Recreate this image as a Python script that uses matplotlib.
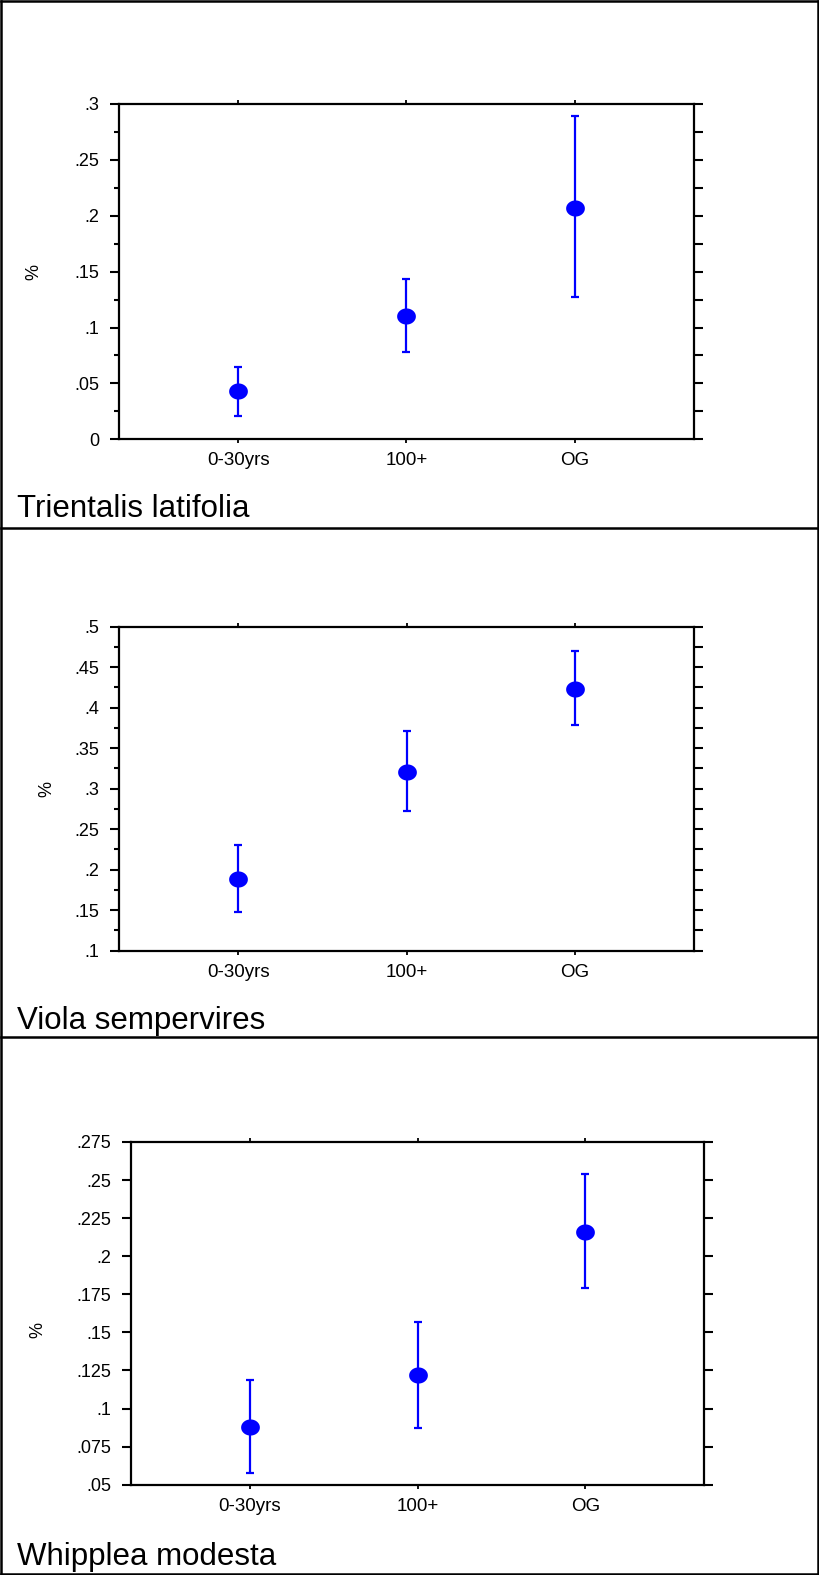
import numpy as np
import matplotlib
matplotlib.use("Agg")
import matplotlib.pyplot as plt
from matplotlib.path import Path
from matplotlib.lines import Line2D

plt.rcParams['font.family'] = ['Liberation Sans', 'DejaVu Sans']

# ---------------------------------------------------------------
# data (mean and error bar ends)
# ---------------------------------------------------------------
categories = ['0-30yrs', '100+', 'OG']

trientalis_mean = [0.043, 0.110, 0.207]
trientalis_low = [0.021, 0.078, 0.127]
trientalis_high = [0.065, 0.143, 0.289]

viola_mean = [0.188, 0.321, 0.423]
viola_low = [0.148, 0.273, 0.379]
viola_high = [0.230, 0.371, 0.470]

whipplea_mean = [0.088, 0.122, 0.216]
whipplea_low = [0.058, 0.087, 0.179]
whipplea_high = [0.119, 0.157, 0.254]

trientalis_ticks = [0, 0.05, 0.1, 0.15, 0.2, 0.25, 0.3]
trientalis_ticklabels = ['0', '.05', '.1', '.15', '.2', '.25', '.3']
viola_ticks = [0.1, 0.15, 0.2, 0.25, 0.3, 0.35, 0.4, 0.45, 0.5]
viola_ticklabels = ['.1', '.15', '.2', '.25', '.3', '.35', '.4', '.45', '.5']
whipplea_ticks = [0.05, 0.075, 0.1, 0.125, 0.15, 0.175, 0.2, 0.225, 0.25, 0.275]
whipplea_ticklabels = ['.05', '.075', '.1', '.125', '.15', '.175', '.2', '.225', '.25', '.275']

titles = ['Trientalis latifolia', 'Viola sempervires', 'Whipplea modesta']

# ---------------------------------------------------------------
# figure
# ---------------------------------------------------------------
W, H = 820, 1575
fig = plt.figure(figsize=(W / 100, H / 100), dpi=100)


def fx(px):
    return px / W


def fy(py):
    return 1 - py / H


# slightly flattened dot like the original
t = np.linspace(0, 2 * np.pi, 64)
ellipse = Path(np.column_stack([np.cos(t), 0.86 * np.sin(t)]), closed=True)

blue = '#0000ff'


def panel(rect, mean, low, high, ticks, ticklabels, minor, label_x, label_y, pad):
    ax = fig.add_axes(rect)
    x = np.arange(1, len(categories) + 1)
    mean = np.array(mean)
    yerr = [mean - np.array(low), np.array(high) - mean]
    ax.errorbar(x, mean, yerr=yerr, fmt='none', ecolor=blue, elinewidth=1.6,
                capsize=3.2, capthick=1.6, zorder=2)
    ax.plot(x, mean, linestyle='none', marker=ellipse, markersize=13.5,
            color=blue, markeredgewidth=0, zorder=3)

    ax.set_xlim(0.29, 3.71)
    ax.set_ylim(ticks[0], ticks[-1])
    ax.set_xticks(x)
    ax.set_xticklabels(categories, fontsize=13.5)
    ax.set_yticks(ticks)
    ax.set_yticklabels(ticklabels, fontsize=13)
    step = ticks[1] - ticks[0]
    if minor:
        ax.set_yticks(np.arange(ticks[0] + step / 2, ticks[-1], step), minor=True)

    for s in ax.spines.values():
        s.set_linewidth(1.6)
    ax.tick_params(axis='x', which='major', direction='out', length=3, width=1.3,
                   top=True, bottom=True, pad=6.5, colors='black')
    ax.tick_params(axis='y', which='major', direction='out', length=6.5, width=1.5,
                   left=True, right=False, pad=pad)
    ax.tick_params(axis='y', which='minor', direction='out', length=3.5, width=1.5,
                   left=True, right=False)

    # right side: all ticks the same length
    ax2 = ax.twinx()
    ax2.set_ylim(ax.get_ylim())
    right_ticks = list(ticks)
    if minor:
        right_ticks = list(np.arange(ticks[0], ticks[-1] + step / 4, step / 2))
    ax2.set_yticks(right_ticks)
    ax2.set_yticklabels([])
    ax2.tick_params(axis='y', direction='out', length=6.5, width=1.5)
    for s in ax2.spines.values():
        s.set_visible(False)

    ax.set_ylabel('%', fontsize=13)
    ax.yaxis.set_label_coords(label_x, label_y)
    return ax


panel([fx(119), fy(439.3), fx(694) - fx(119), fy(104) - fy(439.3)],
      trientalis_mean, trientalis_low, trientalis_high,
      trientalis_ticks, trientalis_ticklabels, True, -0.134, 0.5, 7.5)
panel([fx(119), fy(950.7), fx(694.3) - fx(119), fy(626.7) - fy(950.7)],
      viola_mean, viola_low, viola_high,
      viola_ticks, viola_ticklabels, True, -0.111, 0.5, 7.5)
panel([fx(131), fy(1484.7), fx(704.3) - fx(131), fy(1142) - fy(1484.7)],
      whipplea_mean, whipplea_low, whipplea_high,
      whipplea_ticks, whipplea_ticklabels, False, -0.147, 0.45, 7.5)

# panel names
for name, base in zip(titles, [516.7, 1029.3, 1565]):
    fig.text(fx(17), fy(base), name, fontsize=22.5, va='baseline', ha='left')

# frame and separators
lw = 1.8
for yy in [1, 527.7, 1036.7, 1573.5]:
    fig.add_artist(Line2D([fx(1), fx(818.5)], [fy(yy), fy(yy)], color='black', lw=lw))
for xx in [1, 818.5]:
    fig.add_artist(Line2D([fx(xx), fx(xx)], [fy(1), fy(1573.5)], color='black', lw=lw))

fig.savefig('out.png', dpi=100, facecolor='white')
